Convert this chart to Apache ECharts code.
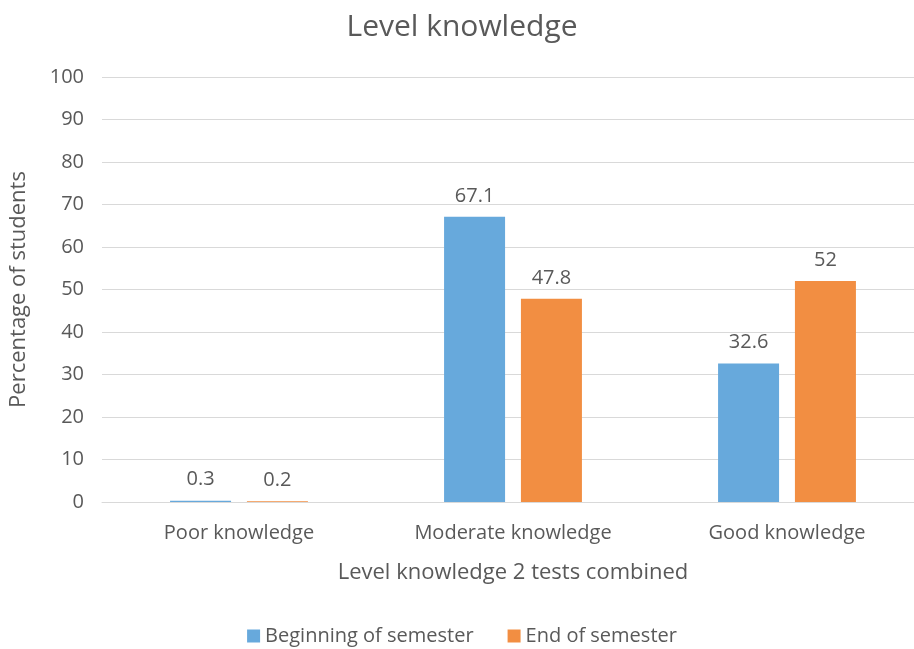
<!DOCTYPE html>
<html>
<head>
<meta charset="utf-8">
<script src="https://cdn.jsdelivr.net/npm/echarts@6/dist/echarts.min.js"></script>
<style>
  html, body { margin: 0; padding: 0; background: #fff; overflow: hidden; }
  #main { width: 924px; height: 649px; }
</style>
</head>
<body>
<div id="main"></div>
<script>
// data
var categories = ['Poor knowledge', 'Moderate knowledge', 'Good knowledge'];
var beginning = [0.3, 67.1, 32.6];
var endSem = [0.2, 47.8, 52];
var seriesNames = ['Beginning of semester', 'End of semester'];

var textColor = '#595959';
var font = 'Open Sans';

// the original chart is a bit wider than the picture, right edge is cut off
var chart = echarts.init(document.getElementById('main'), null, { renderer: 'canvas' });

var option = {
    backgroundColor: '#fff',
    color: ['#67a9dc', '#f28e42'],
    title: {
        text: 'Level knowledge',
        left: 'center',
        top: 7,
        textStyle: { color: textColor, fontFamily: font, fontSize: 30, fontWeight: 'normal' }
    },
    legend: {
        data: seriesNames,
        bottom: -2,
        left: 'center',
        itemWidth: 13,
        itemHeight: 13,
        itemGap: 34,
        icon: 'rect',
        textStyle: { color: textColor, fontFamily: font, fontSize: 20 }
    },
    grid: {
        left: 98,
        right: 0,
        top: 77,
        bottom: 147,
        containLabel: false
    },
    xAxis: {
        type: 'category',
        data: categories,
        name: 'Level knowledge 2 tests combined',
        nameLocation: 'middle',
        nameGap: 60,
        nameTextStyle: { color: textColor, fontFamily: font, fontSize: 22 },
        axisLine: { lineStyle: { color: '#d9d9d9' } },
        axisTick: { show: false },
        axisLabel: { color: textColor, fontFamily: font, fontSize: 20, margin: 21 }
    },
    yAxis: {
        type: 'value',
        min: 0,
        max: 100,
        interval: 10,
        name: 'Percentage of students',
        nameLocation: 'middle',
        nameGap: 72,
        nameTextStyle: { color: textColor, fontFamily: font, fontSize: 22 },
        axisLine: { show: false },
        axisTick: { show: false },
        axisLabel: { color: textColor, fontFamily: font, fontSize: 20, margin: 18 },
        splitLine: { lineStyle: { color: '#d9d9d9' } }
    },
    series: [{
        name: seriesNames[0],
        type: 'bar',
        data: beginning,
        barWidth: 61,
        barGap: '26%',
        label: { show: true, position: 'top', distance: 11, color: textColor, fontFamily: font, fontSize: 20 }
    }, {
        name: seriesNames[1],
        type: 'bar',
        data: endSem,
        barWidth: 61,
        label: { show: true, position: 'top', distance: 11, color: textColor, fontFamily: font, fontSize: 20 }
    }]
};

chart.setOption(option);
</script>
</body>
</html>
